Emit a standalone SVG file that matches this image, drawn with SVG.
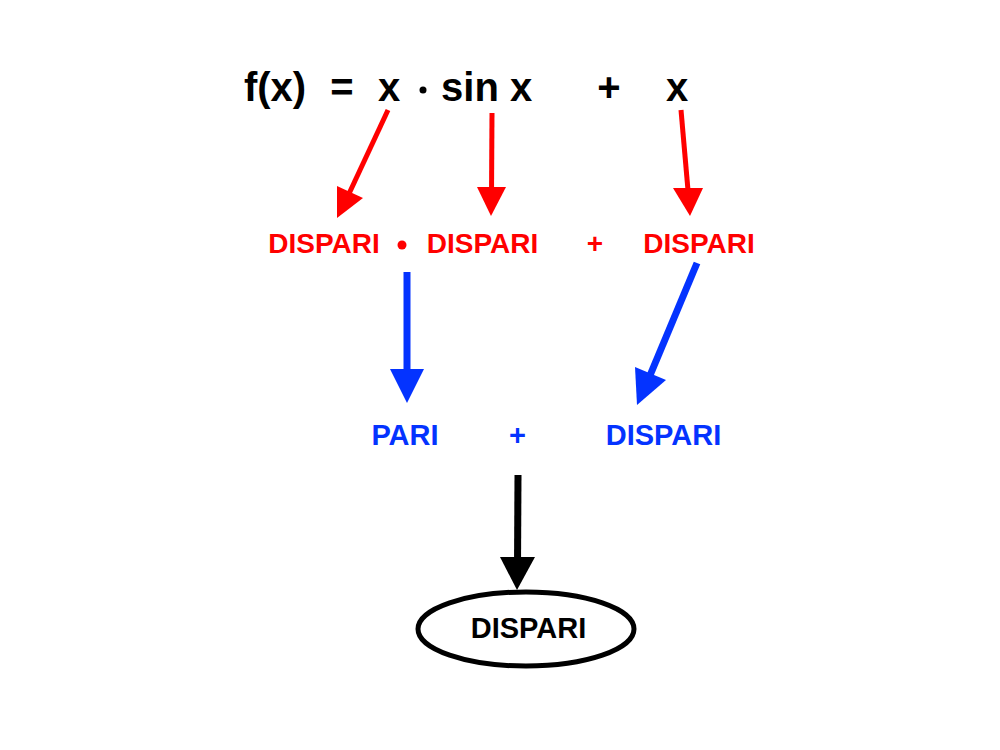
<svg xmlns="http://www.w3.org/2000/svg" width="1000" height="750" viewBox="0 0 1000 750">
<style>
text{font-family:"Liberation Sans",Arial,sans-serif;font-weight:bold;text-anchor:middle}
.k{fill:#000}
.r{fill:#FF0000}
.b{fill:#0433FF}
.lr{stroke:#FF0000;stroke-width:5;fill:none}
.lb{stroke:#0433FF;stroke-width:7;fill:none}
.lk{stroke:#000;stroke-width:7;fill:none}
</style>
<rect width="1000" height="750" fill="#fff"/>
<g id="formula" font-size="40">
<text class="k" x="275" y="101" font-size="40">f(x)</text>
<text class="k" x="342" y="101" font-size="40">=</text>
<text class="k" x="389" y="101" font-size="40">x</text>
<circle class="k" cx="423" cy="90" r="3.5"/>
<text class="k" x="470" y="101" font-size="40">sin</text>
<text class="k" x="521" y="101" font-size="40">x</text>
<text class="k" x="609" y="101" font-size="40">+</text>
<text class="k" x="677" y="101" font-size="40">x</text>
</g>
<g id="red-row">
<text class="r" x="324" y="253" font-size="28">DISPARI</text>
<circle class="r" cx="402" cy="245" r="4.5"/>
<text class="r" x="482.5" y="253" font-size="28">DISPARI</text>
<text class="r" x="595" y="253" font-size="28">+</text>
<text class="r" x="699" y="253" font-size="28">DISPARI</text>
</g>
<g id="blue-row">
<text class="b" x="405" y="445" font-size="29">PARI</text>
<text class="b" x="517.5" y="445" font-size="29">+</text>
<text class="b" x="663.5" y="445" font-size="29">DISPARI</text>
</g>
<g id="result">
<ellipse cx="526" cy="629" rx="108" ry="37" fill="none" stroke="#000" stroke-width="5"/>
<text class="k" x="528.5" y="638" font-size="29">DISPARI</text>
</g>
<g id="connectors">
<line class="lr" x1="388" y1="110" x2="347" y2="198"/>
<polygon fill="#FF0000" points="337,218 337,186 363,198"/>
<line class="lr" x1="492" y1="113" x2="491.5" y2="196"/>
<polygon fill="#FF0000" points="491,216 477,187 506,187"/>
<line class="lr" x1="681" y1="110" x2="688.5" y2="196"/>
<polygon fill="#FF0000" points="690,216 673,188 703,188"/>
<line class="lb" x1="407" y1="272" x2="407" y2="380"/>
<polygon fill="#0433FF" points="407,403 390,369 424,369"/>
<line class="lb" x1="697" y1="263" x2="646" y2="385"/>
<polygon fill="#0433FF" points="637,405 635,367 666,380"/>
<line class="lk" x1="518" y1="475" x2="517.5" y2="568"/>
<polygon fill="#000" points="517,590 500,557 535,557"/>
</g>
</svg>
